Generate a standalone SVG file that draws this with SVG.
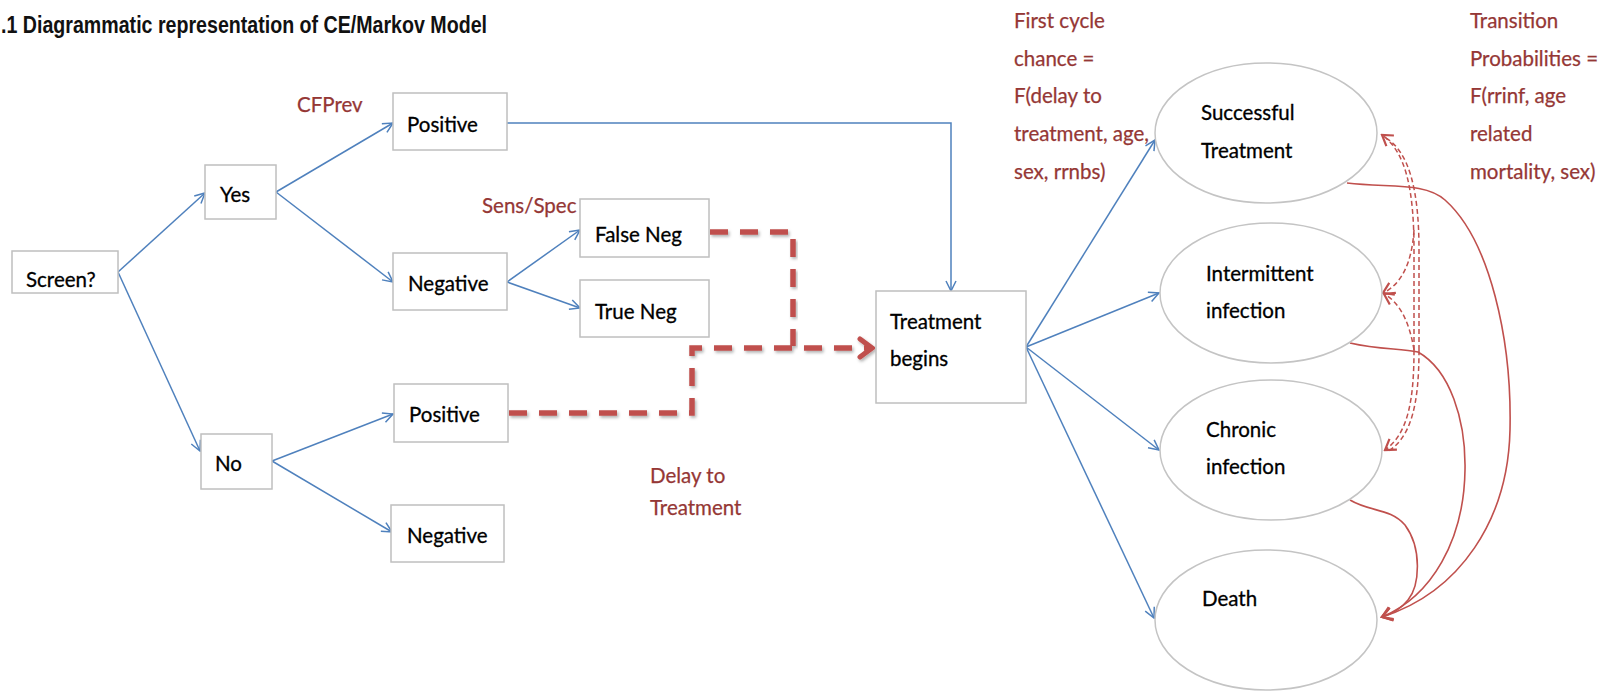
<svg xmlns="http://www.w3.org/2000/svg" width="1611" height="691" viewBox="0 0 1611 691">
  <defs>
    <style>
      .box { fill: #ffffff; stroke: #bfbfbf; stroke-width: 1.5; }
      .state { fill: #ffffff; stroke: #c4c4c4; stroke-width: 1.5; }
      .lbl { font-family: Lato, "Liberation Sans", sans-serif; font-size: 20.5px; fill: #000000; stroke: #000000; stroke-width: 0.3; }
      .note { font-family: Lato, "Liberation Sans", sans-serif; font-size: 20.5px; fill: #953735; stroke: #953735; stroke-width: 0.25; }
      .title { font-family: "Liberation Sans", Arial, sans-serif; font-size: 23px; font-weight: bold; fill: #111111; }
      .blue { fill: none; stroke: #4f81bd; stroke-width: 1.5; marker-end: url(#arrowBlue); }
      .delay { fill: none; stroke: #c0504d; stroke-width: 5.5; stroke-dasharray: 18 12; filter: url(#shadow); }
      .trans { fill: none; stroke: #c0504d; stroke-width: 1.6; }
      .transDash { fill: none; stroke: #c0504d; stroke-width: 1.5; stroke-dasharray: 5 3; }
    </style>
    <marker id="arrowBlue" viewBox="0 0 12 12" refX="11" refY="6" markerWidth="12" markerHeight="12" orient="auto" markerUnits="userSpaceOnUse">
      <path d="M1,1 L11,6 L1,11" fill="none" stroke="#4f81bd" stroke-width="1.5"/>
    </marker>
    <marker id="arrowRed" viewBox="0 0 14 16" refX="12" refY="8" markerWidth="14" markerHeight="16" orient="auto" markerUnits="userSpaceOnUse">
      <path d="M2,1.5 L12,8 L2,14.5" fill="none" stroke="#c0504d" stroke-width="2.2"/>
    </marker>
    <marker id="arrowThick" viewBox="0 0 18 24" refX="15" refY="12" markerWidth="18" markerHeight="24" orient="auto" markerUnits="userSpaceOnUse">
      <path d="M3,3 L15,12 L3,21" fill="none" stroke="#c0504d" stroke-width="5" stroke-linecap="round"/>
    </marker>
    <filter id="shadow" x="-5%" y="-20%" width="110%" height="140%">
      <feDropShadow dx="1.5" dy="2" stdDeviation="1.5" flood-color="#000000" flood-opacity="0.3"/>
    </filter>
  </defs>

  <rect width="1611" height="691" fill="#ffffff"/>

  <text class="title" x="1" y="33" textLength="486" lengthAdjust="spacingAndGlyphs">.1 Diagrammatic representation of CE/Markov Model</text>

  <!-- connectors -->
  <g id="connectors">
    <!-- decision tree -->
    <path class="blue" d="M118,272 L205,193"/>
    <path class="blue" d="M118,272 L200,451"/>
    <path class="blue" d="M276,192 L393,123"/>
    <path class="blue" d="M276,192 L393,282"/>
    <path class="blue" d="M507,282 L580,230"/>
    <path class="blue" d="M507,282 L580,308"/>
    <path class="blue" d="M272,461 L393,414"/>
    <path class="blue" d="M272,461 L392,532"/>
    <path class="blue" d="M507,123 L951,123 L951,291"/>
    <!-- treatment to Markov states -->
    <path class="blue" d="M1026,347 L1155,140"/>
    <path class="blue" d="M1026,347 L1159,293"/>
    <path class="blue" d="M1026,347 L1159,450"/>
    <path class="blue" d="M1026,347 L1154,618"/>

    <!-- delay to treatment -->
    <path class="delay" d="M710,232 L793,232 L793,346"/>
    <path class="delay" d="M509,413 L692,413 L692,348 L872,348" marker-end="url(#arrowThick)"/>

    <!-- transitions to death -->
    <path class="trans" d="M1347,183 C1390,188 1425,182 1445,200 C1490,240 1512,340 1510,430 C1508,520 1460,592 1382,617" marker-end="url(#arrowRed)"/>
    <path class="trans" d="M1350,343 C1380,350 1400,348 1418,352 C1450,370 1466,420 1465,470 C1464,540 1432,596 1382,617" marker-end="url(#arrowRed)"/>
    <path class="trans" d="M1350,500 C1370,512 1390,508 1405,525 C1422,548 1420,585 1408,600 C1400,610 1392,614 1382,617" marker-end="url(#arrowRed)"/>

    <!-- transitions between infection states -->
    <path class="transDash" d="M1414,350 L1414,250 C1414,190 1406,152 1382,135" marker-end="url(#arrowRed)"/>
    <path class="transDash" d="M1419,350 L1419,250 C1419,190 1409,150 1384,137"/>
    <path class="transDash" d="M1414,350 C1414,400 1408,434 1385,450" marker-end="url(#arrowRed)"/>
    <path class="transDash" d="M1419,350 C1419,405 1411,438 1387,452"/>
    <path class="transDash" d="M1414,230 C1412,262 1402,284 1383,293" marker-end="url(#arrowRed)"/>
    <path class="transDash" d="M1414,350 C1410,325 1401,303 1384,294" marker-end="url(#arrowRed)"/>
  </g>

  <!-- decision tree nodes -->
  <g id="screen">
    <rect class="box" x="12" y="251" width="106" height="42"/>
    <text class="lbl" x="26" y="287">Screen?</text>
  </g>
  <g id="yes">
    <rect class="box" x="205" y="165" width="71" height="54"/>
    <text class="lbl" x="220" y="202">Yes</text>
  </g>
  <g id="no">
    <rect class="box" x="201" y="434" width="71" height="55"/>
    <text class="lbl" x="215" y="471">No</text>
  </g>
  <g id="yes-positive">
    <rect class="box" x="393" y="93" width="114" height="57"/>
    <text class="lbl" x="407" y="132">Positive</text>
  </g>
  <g id="yes-negative">
    <rect class="box" x="393" y="253" width="114" height="57"/>
    <text class="lbl" x="408" y="291">Negative</text>
  </g>
  <g id="false-neg">
    <rect class="box" x="580" y="199" width="129" height="58"/>
    <text class="lbl" x="595" y="242">False Neg</text>
  </g>
  <g id="true-neg">
    <rect class="box" x="580" y="280" width="129" height="57"/>
    <text class="lbl" x="595" y="319">True Neg</text>
  </g>
  <g id="no-positive">
    <rect class="box" x="394" y="384" width="114" height="58"/>
    <text class="lbl" x="409" y="422">Positive</text>
  </g>
  <g id="no-negative">
    <rect class="box" x="391" y="505" width="113" height="57"/>
    <text class="lbl" x="407" y="543">Negative</text>
  </g>
  <g id="treatment-begins">
    <rect class="box" x="876" y="291" width="150" height="112"/>
    <text class="lbl" x="890" y="329">Treatment</text>
    <text class="lbl" x="890" y="366">begins</text>
  </g>

  <!-- Markov states -->
  <g id="successful-treatment">
    <ellipse class="state" cx="1266" cy="133" rx="111" ry="70"/>
    <text class="lbl" x="1201" y="120">Successful</text>
    <text class="lbl" x="1201" y="158">Treatment</text>
  </g>
  <g id="intermittent-infection">
    <ellipse class="state" cx="1271" cy="293" rx="111" ry="70"/>
    <text class="lbl" x="1206" y="281">Intermittent</text>
    <text class="lbl" x="1206" y="318">infection</text>
  </g>
  <g id="chronic-infection">
    <ellipse class="state" cx="1271" cy="450" rx="111" ry="70"/>
    <text class="lbl" x="1206" y="437">Chronic</text>
    <text class="lbl" x="1206" y="474">infection</text>
  </g>
  <g id="death">
    <ellipse class="state" cx="1266" cy="620" rx="111" ry="70"/>
    <text class="lbl" x="1202" y="606">Death</text>
  </g>

  <!-- annotations -->
  <g id="annotations">
    <text class="note" x="297" y="112">CFPrev</text>
    <text class="note" x="482" y="213">Sens/Spec</text>
    <text class="note" x="650" y="483">Delay to</text>
    <text class="note" x="650" y="515">Treatment</text>
    <text class="note" x="1014" y="28">First cycle</text>
    <text class="note" x="1014" y="66">chance =</text>
    <text class="note" x="1014" y="103">F(delay to</text>
    <text class="note" x="1014" y="141">treatment, age,</text>
    <text class="note" x="1014" y="179">sex, rrnbs)</text>
    <text class="note" x="1470" y="28">Transition</text>
    <text class="note" x="1470" y="66">Probabilities =</text>
    <text class="note" x="1470" y="103">F(rrinf, age</text>
    <text class="note" x="1470" y="141">related</text>
    <text class="note" x="1470" y="179">mortality, sex)</text>
  </g>
</svg>
